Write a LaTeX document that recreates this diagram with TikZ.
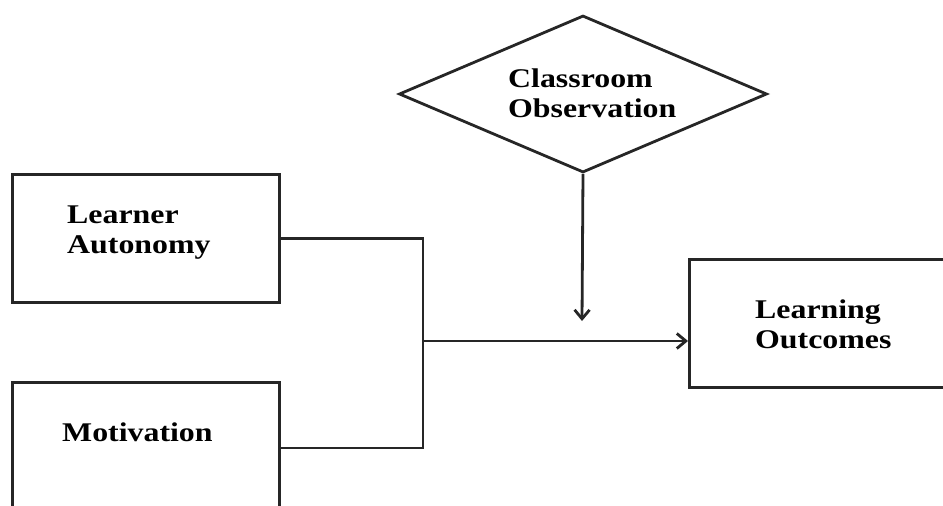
\documentclass[tikz,border=0pt]{standalone}
\usepackage{fontspec}
\setmainfont{Liberation Serif}[FakeStretch=1.18]
\usetikzlibrary{shapes.geometric,arrows.meta}

\tikzset{
	box/.style = {draw=black!85, line width=2.8pt, rectangle,
		anchor=north west, inner sep=0pt},
	lbl/.style = {font=\bfseries\fontsize{27}{30}\selectfont, align=left,
		anchor=base west, inner sep=0pt, text=black},
	link/.style = {draw=black!85, line width=2.8pt},
	tip/.style = {-{Straight Barb[length=9pt,width=15pt,line width=2.8pt]}}
}

\begin{document}
\begin{tikzpicture}[x=1pt,y=-1pt]
	\clip (0,0) rectangle (943,506);
	% inputs
	\node[box, minimum width=267pt, minimum height=128pt] (auto) at (11,173) {};
	\node[lbl] (autotxt) at (67,253) {Learner\\Autonomy};
	\node[box, minimum width=267pt, minimum height=160pt] (mot) at (11,381) {};
	\node[lbl] (mottxt) at (62,441) {Motivation};
	% moderator
	\node[draw=black!85, line width=2.8pt, shape=diamond, inner sep=0pt,
		minimum width=368pt, minimum height=157pt] (obs) at (583,94) {};
	\node[lbl] (obstxt) at (508,117) {Classroom\\Observation};
	% outcome
	\node[box, minimum width=300pt, minimum height=128pt] (outc) at (688,258) {};
	\node[lbl] (outctxt) at (755,348) {Learning\\Outcomes};
	% connectors
	\coordinate (jn) at (423,341);
	\coordinate (mod) at (582,321);
	\draw[link] (auto.east) -| (jn);
	\draw[link] ([yshift=-67pt]mot.north east) -| (jn);
	\draw[link, tip] (jn) -- (jn -| outc.west);
	\draw[link, tip] (obs.south) -- (mod);
\end{tikzpicture}
\end{document}
